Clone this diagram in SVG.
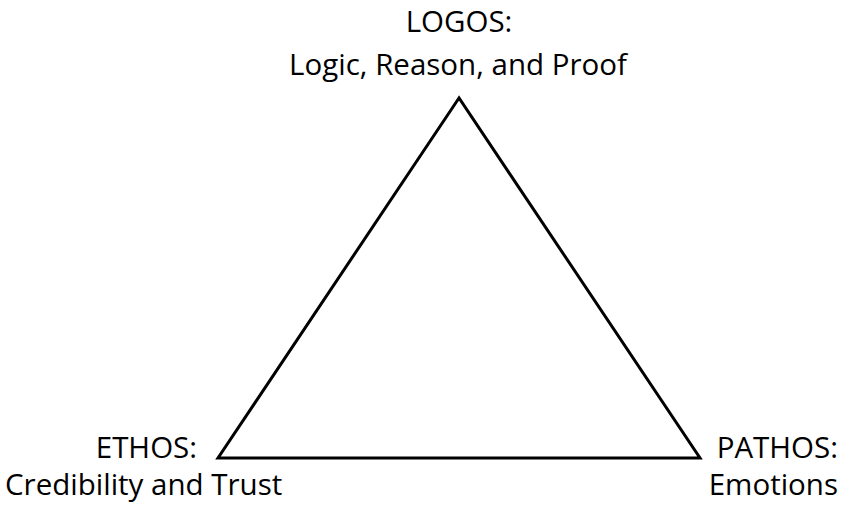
<svg xmlns="http://www.w3.org/2000/svg" width="844" height="510" viewBox="0 0 844 510">
<style>
text{font-family:"Open Sans","Liberation Sans",sans-serif;font-size:29.5px;fill:#000}
.tri{fill:none;stroke:#000;stroke-width:3;stroke-linejoin:miter}
</style>
<rect width="844" height="510" fill="#fff"/>
<g id="connectors">
<polygon class="tri" points="459,98 218,458 700,458"/>
</g>
<g id="logos">
<text x="459" y="32" text-anchor="middle">LOGOS:</text>
<text x="458" y="75" text-anchor="middle">Logic, Reason, and Proof</text>
</g>
<g id="ethos">
<text x="197" y="458" text-anchor="end">ETHOS:</text>
<text x="5" y="495">Credibility and Trust</text>
</g>
<g id="pathos">
<text x="838" y="458" text-anchor="end">PATHOS:</text>
<text x="838" y="495" text-anchor="end">Emotions</text>
</g>
</svg>
